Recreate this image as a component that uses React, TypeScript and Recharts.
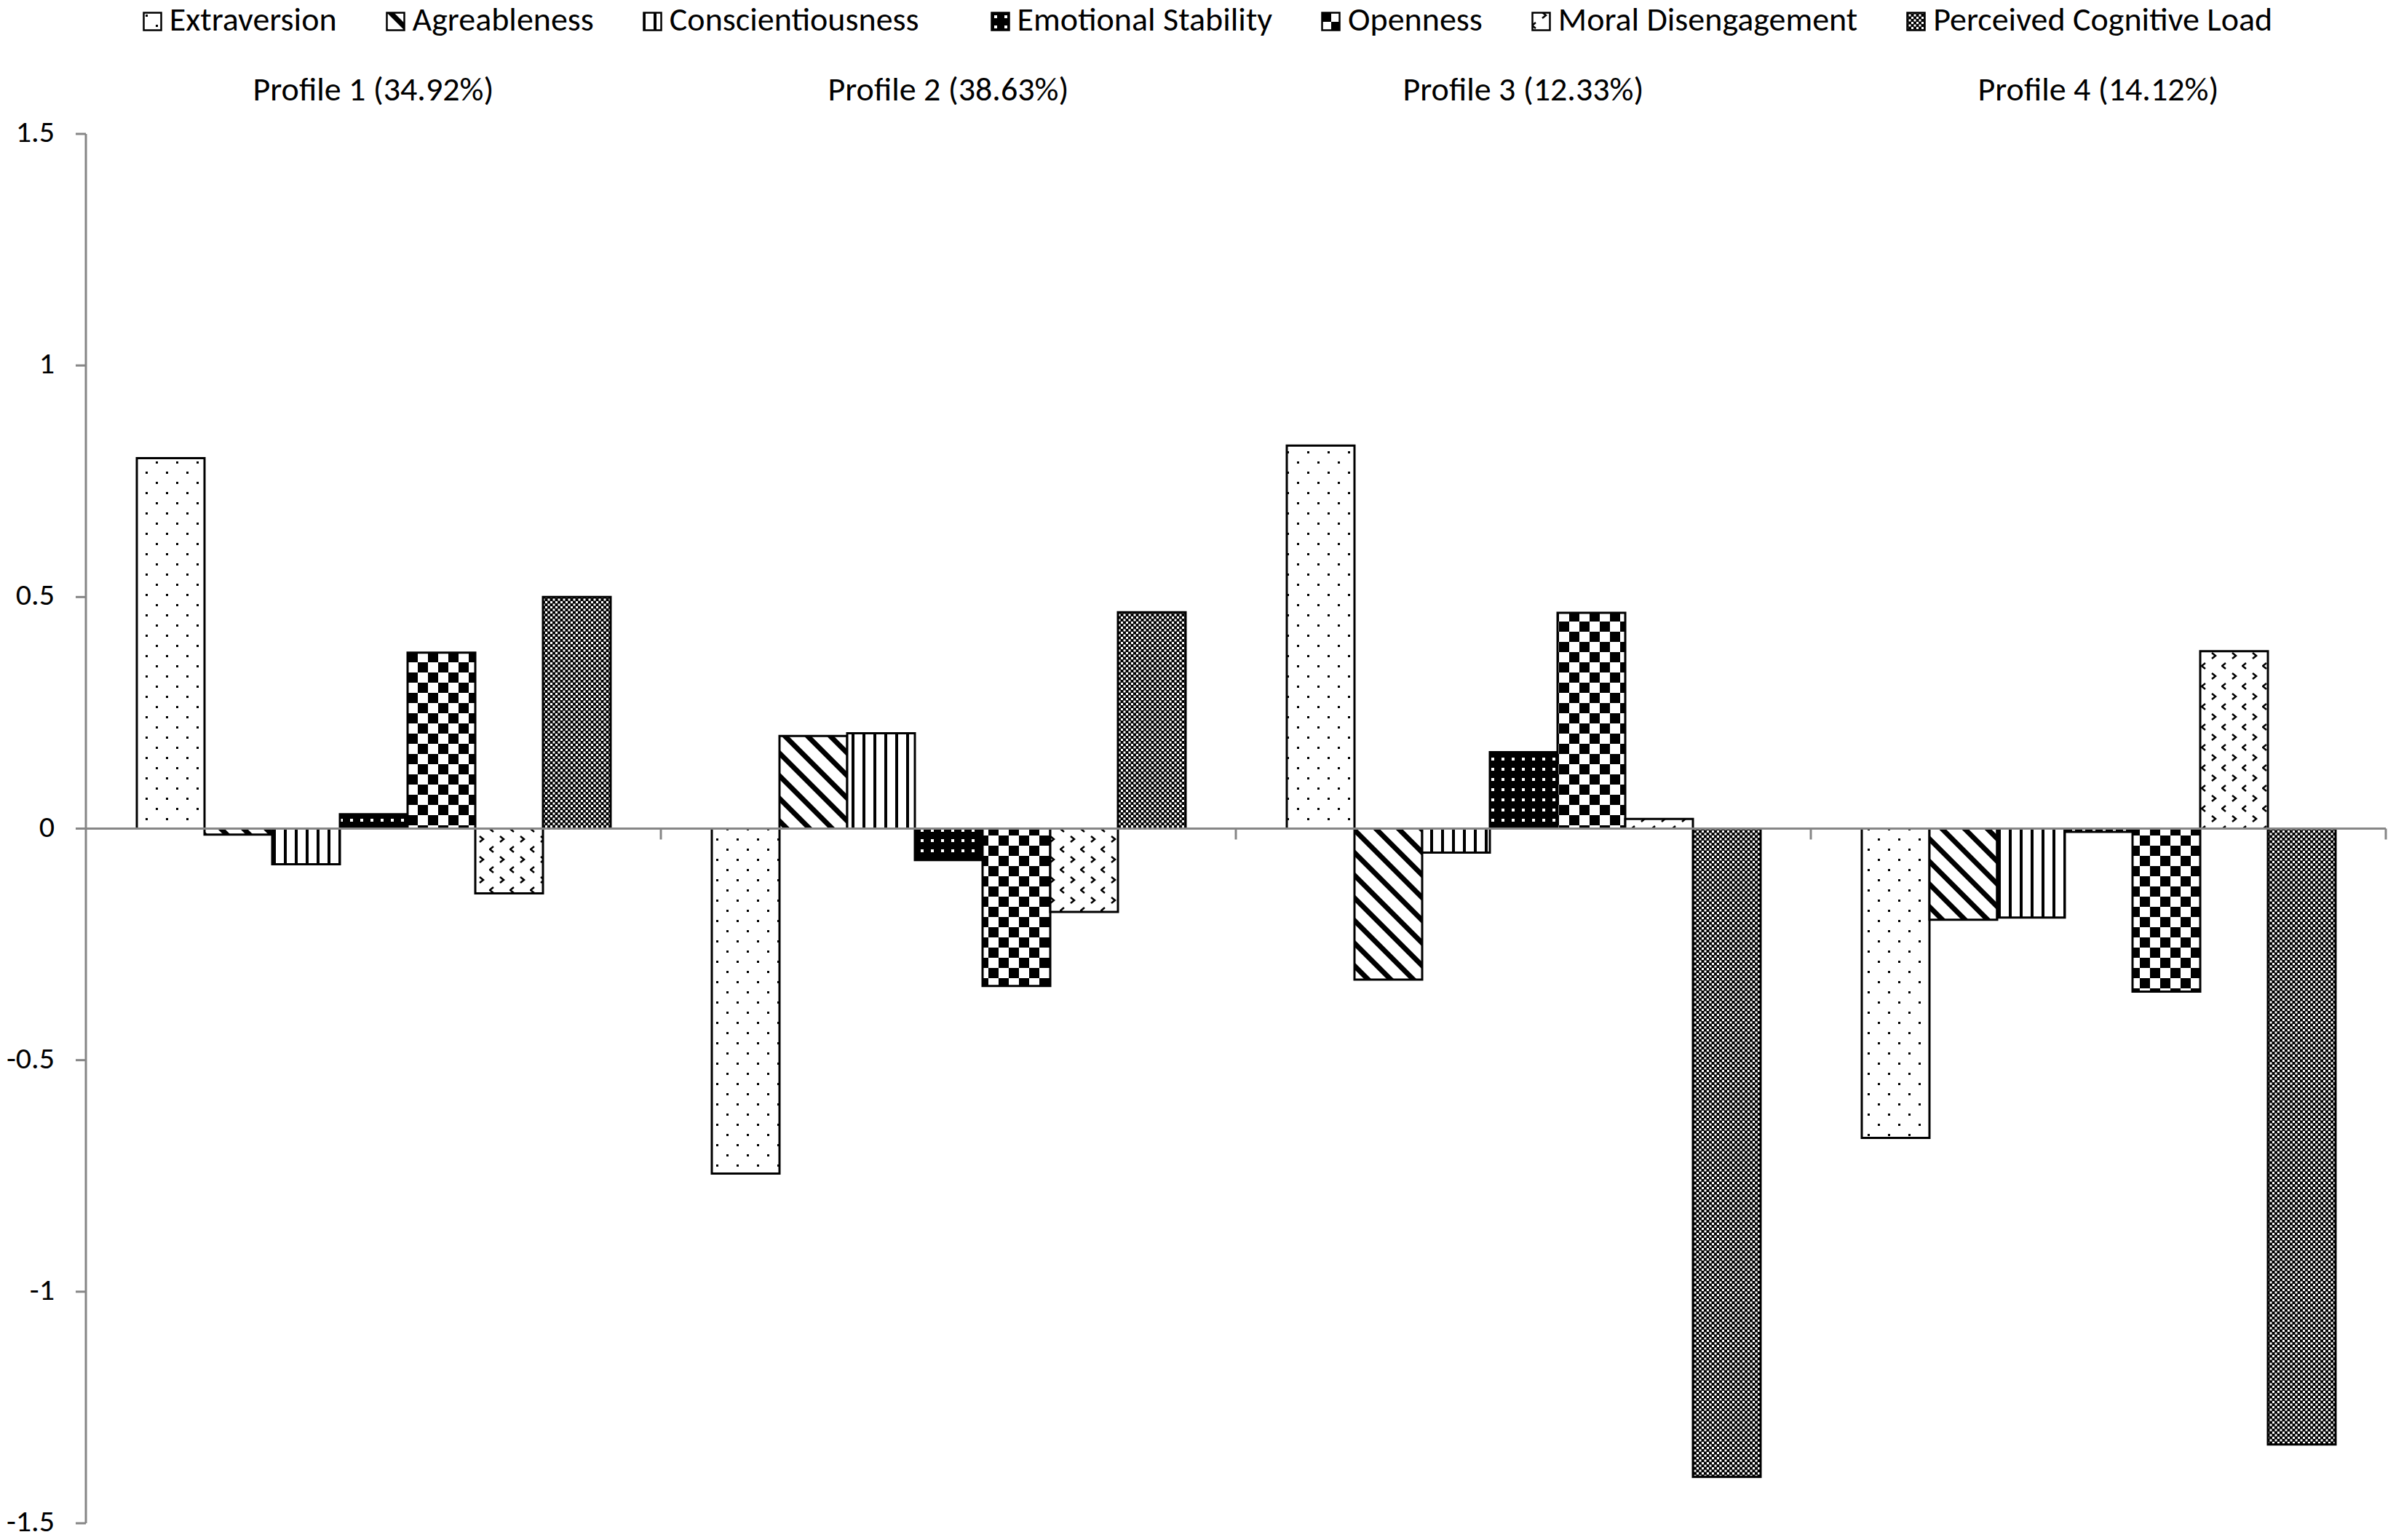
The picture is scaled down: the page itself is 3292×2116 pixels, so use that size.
import { BarChart, Bar, XAxis, YAxis, ReferenceLine, Legend } from "recharts"

const categories = [
  "Profile 1 (34.92%)",
  "Profile 2 (38.63%)",
  "Profile 3 (12.33%)",
  "Profile 4 (14.12%)",
]

const seriesNames = [
  "Extraversion",
  "Agreableness",
  "Conscientiousness",
  "Emotional Stability",
  "Openness",
  "Moral Disengagement",
  "Perceived Cognitive Load",
]

const extraversion = [0.8, -0.745, 0.827, -0.668]
const agreeableness = [-0.013, 0.2, -0.326, -0.197]
const conscientiousness = [-0.077, 0.206, -0.052, -0.192]
const emotionalStability = [0.031, -0.068, 0.165, -0.007]
const openness = [0.38, -0.34, 0.466, -0.352]
const moralDisengagement = [-0.14, -0.18, 0.021, 0.383]
const cognitiveLoad = [0.5, 0.467, -1.4, -1.33]

const yTicks = [-1.5, -1, -0.5, 0, 0.5, 1, 1.5]

const seriesValues = [
  extraversion,
  agreeableness,
  conscientiousness,
  emotionalStability,
  openness,
  moralDisengagement,
  cognitiveLoad,
]

const keys = ["s0", "s1", "s2", "s3", "s4", "s5", "s6"]
const patternIds = ["pExt", "pAgr", "pCon", "pEmo", "pOpe", "pMor", "pLoad"]

const data = categories.map((name, i) => {
  const row: Record<string, string | number> = { name }
  seriesValues.forEach((vals, s) => {
    row[keys[s]] = vals[i]
  })
  return row
})

const FONT = "Carlito, Lato, sans-serif"
const AXIS_GREY = "#868686"

function Patterns() {
  return (
    <defs>
      <pattern id="pExt" width="28" height="28" patternUnits="userSpaceOnUse">
        <rect width="28" height="28" fill="#fff" />
        <rect x="4" y="4" width="3" height="3" fill="#000" />
        <rect x="18" y="18" width="3" height="3" fill="#000" />
      </pattern>
      <pattern
        id="pAgr"
        width="22"
        height="22"
        patternUnits="userSpaceOnUse"
        patternTransform="rotate(-45)"
      >
        <rect width="22" height="22" fill="#fff" />
        <rect x="0" y="0" width="7" height="22" fill="#000" />
      </pattern>
      <pattern id="pCon" width="15" height="15" patternUnits="userSpaceOnUse">
        <rect width="15" height="15" fill="#fff" />
        <rect x="0" y="0" width="4" height="15" fill="#000" />
      </pattern>
      <pattern id="pEmo" width="14" height="14" patternUnits="userSpaceOnUse">
        <rect width="14" height="14" fill="#000" />
        <rect x="5" y="5" width="4" height="4" fill="#fff" />
      </pattern>
      <pattern id="pOpe" width="28" height="28" patternUnits="userSpaceOnUse">
        <rect width="28" height="28" fill="#fff" />
        <rect x="0" y="0" width="14" height="14" fill="#000" />
        <rect x="14" y="14" width="14" height="14" fill="#000" />
      </pattern>
      <pattern id="pMor" width="28" height="28" patternUnits="userSpaceOnUse">
        <rect width="28" height="28" fill="#fff" />
        <polyline points="15,1 20,5 15,9" fill="none" stroke="#000" strokeWidth="2.5" />
        <polyline points="6,15 1,19 6,23" fill="none" stroke="#000" strokeWidth="2.5" />
      </pattern>
      <pattern id="pLoad" width="7" height="7" patternUnits="userSpaceOnUse">
        <rect width="7" height="7" fill="#000" />
        <rect x="0" y="0" width="3" height="3" fill="#fff" />
        <rect x="3.5" y="3.5" width="3" height="3" fill="#fff" />
      </pattern>
    </defs>
  )
}

// zero line with the category boundary tick marks hanging below it
function ZeroAxis(props: any) {
  const { x1, x2, y1 } = props
  const band = (x2 - x1) / categories.length
  return (
    <g>
      <line x1={x1} y1={y1} x2={x2} y2={y1} stroke={AXIS_GREY} strokeWidth={3} />
      {categories.map((c, i) => (
        <line
          key={c}
          x1={x1 + (i + 1) * band}
          x2={x1 + (i + 1) * band}
          y1={y1}
          y2={y1 + 15}
          stroke={AXIS_GREY}
          strokeWidth={3}
        />
      ))}
    </g>
  )
}

function YTick(props: any) {
  const { x, y, payload } = props
  return (
    <text
      x={x}
      y={y}
      dy={11}
      textAnchor="end"
      fontSize={42}
      fontFamily={FONT}
      fill="#000"
    >
      {payload.value}
    </text>
  )
}

function LegendContent() {
  return (
    <div
      style={{
        display: "flex",
        justifyContent: "center",
        width: 3292,
        paddingLeft: 26,
        boxSizing: "border-box",
        fontFamily: FONT,
        fontSize: 46,
        lineHeight: 1,
        color: "#000",
      }}
    >
      {seriesNames.map((n, i) => (
        <div
          key={n}
          style={{
            display: "flex",
            alignItems: "flex-start",
            marginRight: i === seriesNames.length - 1 ? 0 : i === 2 ? 98 : 67,
          }}
        >
          <svg width={27} height={27} style={{ marginTop: 13, marginRight: 10 }}>
            <rect
              x={1.5}
              y={1.5}
              width={24}
              height={24}
              fill={`url(#${patternIds[i]})`}
              stroke="#000"
              strokeWidth={2.5}
            />
          </svg>
          <span>{n}</span>
        </div>
      ))}
    </div>
  )
}

export default function App() {
  return (
    <div
      style={{
        position: "absolute",
        left: 0,
        top: 0,
        width: 3292,
        height: 2116,
        background: "#fff",
      }}
    >
      <BarChart
        width={3292}
        height={2116}
        data={data}
        margin={{ top: 124, right: 14, bottom: 23, left: 18 }}
        barCategoryGap={70}
        barGap={0}
        style={{ fontFamily: FONT }}
      >
        <Patterns />
        <XAxis
          dataKey="name"
          orientation="top"
          height={60}
          axisLine={false}
          tickLine={false}
          tickSize={0}
          tickMargin={46}
          interval={0}
          tick={{ fontSize: 46, fill: "#000", fontFamily: FONT }}
        />
        <YAxis
          domain={[-1.5, 1.5]}
          ticks={yTicks}
          interval={0}
          width={100}
          allowDataOverflow
          axisLine={{ stroke: AXIS_GREY, strokeWidth: 3 }}
          tickLine={{ stroke: AXIS_GREY, strokeWidth: 3 }}
          tickSize={14}
          tickMargin={29}
          tick={<YTick />}
        />
        <Legend
          verticalAlign="middle"
          align="center"
          layout="horizontal"
          content={<LegendContent />}
          wrapperStyle={{ top: 3, left: 0, width: 3292 }}
        />
        {keys.map((k, i) => (
          <Bar
            key={k}
            dataKey={k}
            name={seriesNames[i]}
            fill={`url(#${patternIds[i]})`}
            stroke="#000"
            strokeWidth={3}
            isAnimationActive={false}
          />
        ))}
        <ReferenceLine y={0} stroke={AXIS_GREY} strokeWidth={3} shape={ZeroAxis} />
      </BarChart>
    </div>
  )
}
